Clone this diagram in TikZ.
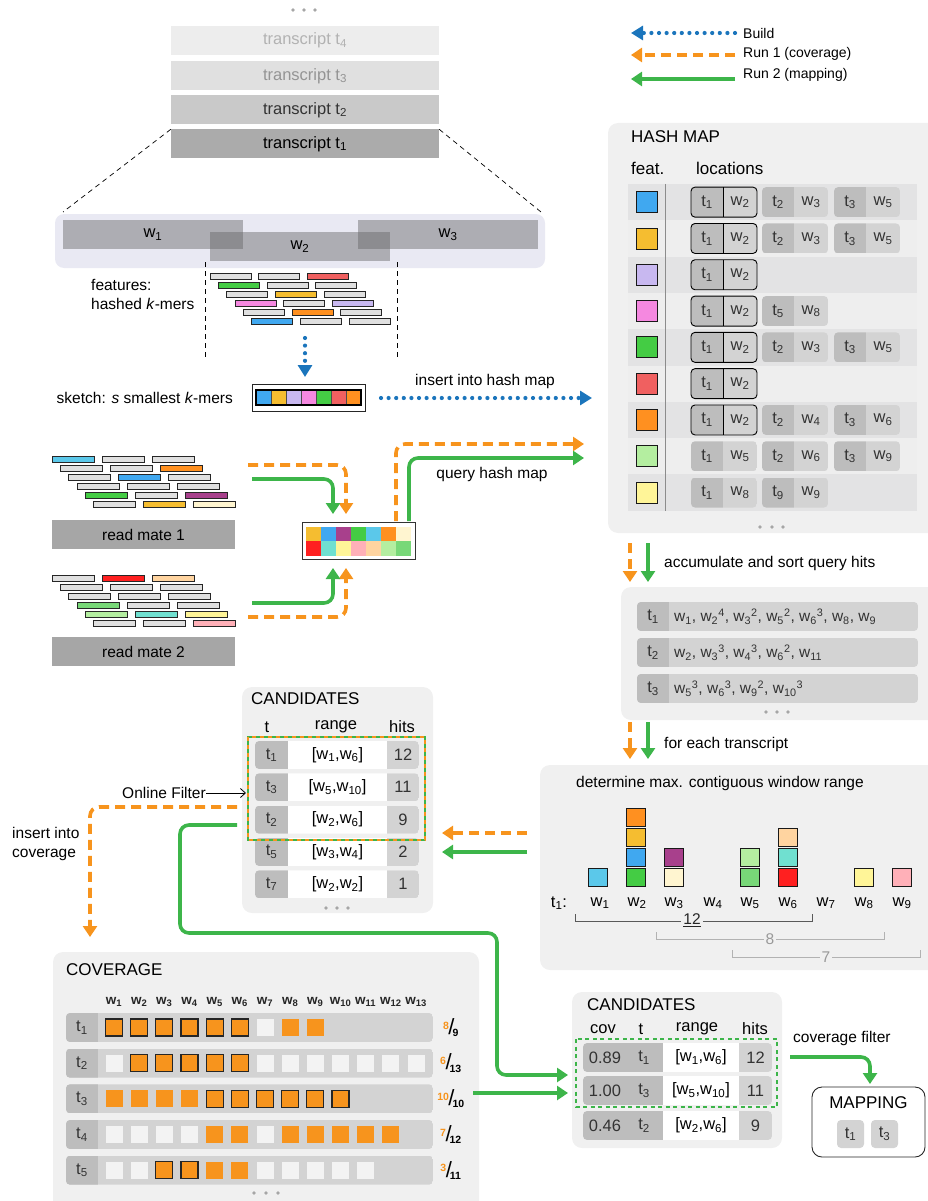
\documentclass[tikz,border=0pt]{standalone}
\usepackage{fontspec}
\setmainfont{Liberation Sans}
\usetikzlibrary{arrows.meta}
\definecolor{cgreen}{HTML}{3DB54A}
\definecolor{corange}{HTML}{F7941D}
\definecolor{cblue}{HTML}{1B75BC}
\definecolor{panel}{HTML}{F0F0F0}
\definecolor{lav}{HTML}{E9E9F3}
\definecolor{kgray}{HTML}{E0E0E0}
\definecolor{pdark}{HTML}{BDBDBD}
\definecolor{plight}{HTML}{D3D3D3}
\definecolor{rowa}{HTML}{E3E3E4}
\definecolor{rowb}{HTML}{EEEEEE}
\definecolor{sqempty}{HTML}{F3F3F3}
\definecolor{trfour}{HTML}{EDEDED}
\definecolor{trthree}{HTML}{E0E0E0}
\definecolor{trtwo}{HTML}{C9C9C9}
\definecolor{trone}{HTML}{ABABAB}
\definecolor{readbox}{HTML}{A6A6A6}
\definecolor{fblue}{HTML}{40A8F0}
\definecolor{fyellow}{HTML}{F5BD30}
\definecolor{flav}{HTML}{C8B8F0}
\definecolor{fpink}{HTML}{F588E0}
\definecolor{fgreen}{HTML}{44CC44}
\definecolor{fred}{HTML}{F06060}
\definecolor{forange}{HTML}{FF9020}
\definecolor{flgreen}{HTML}{B4EEA0}
\definecolor{flyellow}{HTML}{FFF598}
\definecolor{fcyan}{HTML}{5BC8EA}
\definecolor{fpurple}{HTML}{A8408C}
\definecolor{fcream}{HTML}{FFF5D0}
\definecolor{fbred}{HTML}{FF2020}
\definecolor{fpeach}{HTML}{FFD4A0}
\definecolor{fteal}{HTML}{70E0D0}
\definecolor{fgreentwo}{HTML}{78D878}
\definecolor{frose}{HTML}{FFB0B8}

% k-mer row: x, y, step, width, c1, c2, c3
\newcommand\kmerrow[7]{%
  \draw[kmerst, fill=#5] (#1,#2) rectangle ++(#4,6);
  \draw[kmerst, fill=#6] (#1+#3,#2) rectangle ++(#4,6);
  \draw[kmerst, fill=#7] (#1+2*#3,#2) rectangle ++(#4,6);}
% location pill: x, yc, t, w, highlight
\newcommand\locpill[5]{%
  \begin{scope}
    \clip[rounded corners=4pt] (#1,#2-15) rectangle (#1+66,#2+15);
    \fill[pdark] (#1,#2-15) rectangle (#1+32,#2+15);
    \fill[plight] (#1+32,#2-15) rectangle (#1+66,#2+15);
  \end{scope}
  \ifnum#5=1
    \draw[line width=0.9pt, rounded corners=4pt] (#1,#2-15) rectangle (#1+66,#2+15);
    \draw[line width=0.9pt] (#1+32,#2-15) -- (#1+32,#2+15);
  \fi
  \node[cell] at (#1+16,#2) {t\textsubscript{#3}};
  \node[cell] at (#1+49,#2) {w\textsubscript{#4}};}
% feature square in hash map: yc, colour
\newcommand\featsq[2]{\draw[sq, fill=#2] (636,#1-10.5) rectangle (657,#1+10.5);}
% query hits row: ytop, t, text
\newcommand\hitrow[3]{%
  \begin{scope}
    \clip[rounded corners=4pt] (637,#1) rectangle (918,#1+29);
    \fill[plight] (637,#1) rectangle (918,#1+29);
    \fill[pdark] (637,#1) rectangle (669,#1+29);
  \end{scope}
  \node[cell] at (653,#1+14.5) {t\textsubscript{#2}};
  \node[cell, anchor=west, font=\fontsize{15.5}{18}\selectfont] at (674,#1+14.5) {#3};}
% candidates row: ytop, t, range, hits
\newcommand\candrow[4]{%
  \begin{scope}
    \clip[rounded corners=4pt] (255,#1) rectangle (419,#1+28);
    \fill[white] (255,#1) rectangle (419,#1+28);
    \fill[pdark] (255,#1) rectangle (288,#1+28);
    \fill[plight] (387,#1) rectangle (419,#1+28);
  \end{scope}
  \node[cell] at (271.5,#1+14) {t\textsubscript{#2}};
  \node[cell, text=black] at (337.5,#1+14) {#3};
  \node[cell] at (403,#1+14) {#4};}
% candidates 2 row: ytop, cov, t, range, hits
\newcommand\candrowb[5]{%
  \begin{scope}
    \clip[rounded corners=4pt] (583,#1) rectangle (772,#1+29);
    \fill[white] (583,#1) rectangle (772,#1+29);
    \fill[pdark] (583,#1) rectangle (663,#1+29);
    \fill[plight] (739,#1) rectangle (772,#1+29);
  \end{scope}
  \node[cell] at (605,#1+14.5) {#2};
  \node[cell] at (644,#1+14.5) {t\textsubscript{#3}};
  \node[cell, text=black] at (701,#1+14.5) {#4};
  \node[cell] at (755.5,#1+14.5) {#5};}
% coverage row: ytop, t, list of square types
\newcommand\covrow[3]{%
  \begin{scope}
    \clip[rounded corners=4pt] (66,#1) rectangle (433,#1+29);
    \fill[plight] (66,#1) rectangle (433,#1+29);
    \fill[pdark] (66,#1) rectangle (98,#1+29);
  \end{scope}
  \node[cell] at (82,#1+14.5) {t\textsubscript{#2}};
  \foreach \s [count=\i] in {#3} {
    \ifnum\s=0 \fill[sqempty] ({114+25.17*(\i-1)-8.5},#1+6) rectangle ++(17,17);\fi
    \ifnum\s=1 \fill[corange] ({114+25.17*(\i-1)-8.5},#1+6) rectangle ++(17,17);\fi
    \ifnum\s=2 \filldraw[fill=corange, draw=black!85, line width=1.1pt] ({114+25.17*(\i-1)-8.5},#1+6) rectangle ++(17,17);\fi
  }}
% coverage fraction: yc, num, den
\newcommand\covfrac[3]{%
  \node[inner sep=0pt, font=\fontsize{15}{15}\selectfont\bfseries] at (451,#1)
    {\textsuperscript{\textcolor{corange}{#2}}\kern-1pt{\fontsize{22}{22}\selectfont\mdseries/}\kern-2pt\textsubscript{#3}};}
% window square: xc, yc, colour
\newcommand\wsq[3]{\draw[sq, fill=#3] (#1-9.2,#2-9.2) rectangle (#1+9.2,#2+9.2);}

\begin{document}
\begin{tikzpicture}[x=1pt,y=-1pt,
  lbl/.style={inner sep=0pt, font=\fontsize{15.5}{18.5}\selectfont},
  lgd/.style={inner sep=0pt, anchor=west, font=\fontsize{14}{16}\selectfont},
  ttl/.style={inner sep=0pt, anchor=west, font=\fontsize{17}{19}\selectfont},
  cell/.style={inner sep=0pt, font=\fontsize{16.5}{18}\selectfont, text=black!80},
  tbox/.style={minimum width=268pt, minimum height=29pt, inner sep=0pt, font=\fontsize{16.5}{18}\selectfont},
  kmerst/.style={draw=black!85, line width=0.7pt},
  sq/.style={draw=black!90, line width=0.8pt},
  build/.style={cblue, line width=4.2pt, dash pattern=on 0pt off 7.6pt, line cap=round, -{Triangle[length=12pt,width=14pt]}},
  runone/.style={corange, line width=3.6pt, dash pattern=on 10pt off 6pt, rounded corners=9pt, -{Triangle[length=11pt,width=14pt]}},
  runtwo/.style={cgreen, line width=3.6pt, rounded corners=9pt, -{Triangle[length=11pt,width=14pt]}},
  gdot/.style={fill=black!35},
]
\useasboundingbox (0,0) rectangle (927,1201);

%%%%%%%% legend
\coordinate (lb1) at (735,33); \coordinate (lb2) at (631,33);
\coordinate (lo1) at (735,55); \coordinate (lo2) at (631,55);
\coordinate (lg1) at (735,79); \coordinate (lg2) at (631,79);
\draw[build] (lb1) -- (lb2);
\draw[runone] (lo1) -- (lo2);
\draw[runtwo] (lg1) -- (lg2);
\node[lgd] (lbt) at (743,33) {Build};
\node[lgd] (lot) at (743,53.5) {Run 1 (coverage)};
\node[lgd] (lgt) at (743,75) {Run 2 (mapping)};

%%%%%%%% transcripts
\foreach \x in {293,304,315} \fill[gdot] (\x,10) circle (1.8);
\node[tbox, fill=trfour, text=black!30] (tr4) at (305,40.5) {transcript t\textsubscript{4}};
\node[tbox, fill=trthree, text=black!42] (tr3) at (305,76) {transcript t\textsubscript{3}};
\node[tbox, fill=trtwo, text=black!80] (tr2) at (305,110) {transcript t\textsubscript{2}};
\node[tbox, fill=trone, text=black] (tr1) at (305,144) {transcript t\textsubscript{1}};
\coordinate (zl) at (63,212); \coordinate (zr) at (541,212);
\draw[dash pattern=on 5pt off 4pt, line width=0.7pt] (tr1.north west) -- (zl);
\draw[dash pattern=on 5pt off 4pt, line width=0.7pt] (tr1.north east) -- (zr);

%%%%%%%% windows
\fill[lav, rounded corners=9pt] (55,214) rectangle (545,268);
\fill[black!60, fill opacity=0.45] (63,220) rectangle (243,249);
\fill[black!60, fill opacity=0.45] (210,232) rectangle (390,261);
\fill[black!60, fill opacity=0.45] (358,220) rectangle (538,249);
\node[cell, text=black] (w1) at (153,234.5) {w\textsubscript{1}};
\node[cell, text=black] (w2) at (300,246.5) {w\textsubscript{2}};
\node[cell, text=black] (w3) at (448,234.5) {w\textsubscript{3}};
\draw[dash pattern=on 5pt off 4pt, line width=0.7pt] (205,262) -- (205,357);
\draw[dash pattern=on 5pt off 4pt, line width=0.7pt] (397,262) -- (397,357);

\kmerrow{210}{273}{48.7}{41}{kgray}{kgray}{fred}
\kmerrow{218.3}{282}{48.7}{41}{fgreen}{kgray}{kgray}
\kmerrow{226.6}{291}{48.7}{41}{kgray}{fyellow}{kgray}
\kmerrow{234.9}{300}{48.7}{41}{fpink}{kgray}{flav}
\kmerrow{243.2}{309}{48.7}{41}{kgray}{forange}{kgray}
\kmerrow{251.5}{318}{48.7}{41}{fblue}{kgray}{kgray}
\node[lbl, anchor=west, align=left] (feat) at (91,294.5) {features:\\hashed \textit{k}-mers};

%%%%%%%% sketch
\coordinate (bd1) at (305,338); \coordinate (bd2) at (305,377);
\draw[build] (bd1) -- (bd2);
\node[draw=black!85, line width=0.8pt, minimum width=113pt, minimum height=27pt, inner sep=0pt] (sk) at (308.5,397.5) {};
\foreach \c [count=\i from 0] in {fblue,fyellow,flav,fpink,fgreen,fred,forange}
  \draw[fill=\c, draw=black!70, line width=0.5pt] ({256+15*\i},390) rectangle ++(15,15);
\draw[line width=1.3pt] (256,390) rectangle (361,405);
\node[lbl, anchor=east] (sktxt) at (233,397.5) {sketch: \textit{s} smallest \textit{k}-mers};
\coordinate (ins1) at (381,398); \coordinate (ins2) at (592,398);
\draw[build] (ins1) -- (ins2);
\node[lbl] (instxt) at (485,381) {insert into hash map};

%%%%%%%% hash map
\fill[panel, rounded corners=10pt] (608,123) rectangle (945,533);
\node[ttl] (hmt) at (631,137) {HASH MAP};
\node[ttl] (hmf) at (631,168) {feat.};
\node[ttl] (hml) at (696,168) {locations};
\foreach \i in {0,...,8} {
  \ifodd\i \fill[rowb] (628,{184+36.3*\i}) rectangle (917,{184+36.3*(\i+1)});
  \else \fill[rowa] (628,{184+36.3*\i}) rectangle (917,{184+36.3*(\i+1)}); \fi
}
\draw[black!45, line width=0.8pt] (665,184) -- (665,511);
\featsq{202.15}{fblue}
\locpill{691}{202.15}{1}{2}{1}\locpill{762}{202.15}{2}{3}{0}\locpill{834}{202.15}{3}{5}{0}
\featsq{238.45}{fyellow}
\locpill{691}{238.45}{1}{2}{1}\locpill{762}{238.45}{2}{3}{0}\locpill{834}{238.45}{3}{5}{0}
\featsq{274.75}{flav}
\locpill{691}{274.75}{1}{2}{1}
\featsq{311.05}{fpink}
\locpill{691}{311.05}{1}{2}{1}\locpill{762}{311.05}{5}{8}{0}
\featsq{347.35}{fgreen}
\locpill{691}{347.35}{1}{2}{1}\locpill{762}{347.35}{2}{3}{0}\locpill{834}{347.35}{3}{5}{0}
\featsq{383.65}{fred}
\locpill{691}{383.65}{1}{2}{1}
\featsq{419.95}{forange}
\locpill{691}{419.95}{1}{2}{1}\locpill{762}{419.95}{2}{4}{0}\locpill{834}{419.95}{3}{6}{0}
\featsq{456.25}{flgreen}
\locpill{691}{456.25}{1}{5}{0}\locpill{762}{456.25}{2}{6}{0}\locpill{834}{456.25}{3}{9}{0}
\featsq{492.55}{flyellow}
\locpill{691}{492.55}{1}{8}{0}\locpill{762}{492.55}{9}{9}{0}
\foreach \x in {760,772,783} \fill[gdot] (\x,527) circle (1.8);

%%%%%%%% reads
\kmerrow{52}{456}{50}{42}{fcyan}{kgray}{kgray}
\kmerrow{60.3}{465}{50}{42}{kgray}{kgray}{forange}
\kmerrow{68.6}{474}{50}{42}{kgray}{fblue}{kgray}
\kmerrow{76.9}{483}{50}{42}{kgray}{kgray}{kgray}
\kmerrow{85.2}{492}{50}{42}{fgreen}{kgray}{fpurple}
\kmerrow{93.5}{501}{50}{42}{kgray}{fyellow}{fcream}
\node[fill=readbox, minimum width=183pt, minimum height=29pt, inner sep=0pt, font=\fontsize{15.5}{18}\selectfont] (rm1) at (143.5,534.5) {read mate 1};
\kmerrow{52}{575}{50}{42}{kgray}{fbred}{fpeach}
\kmerrow{60.3}{584}{50}{42}{kgray}{kgray}{kgray}
\kmerrow{68.6}{593}{50}{42}{kgray}{kgray}{kgray}
\kmerrow{76.9}{602}{50}{42}{fgreentwo}{kgray}{kgray}
\kmerrow{85.2}{611}{50}{42}{flgreen}{fteal}{flyellow}
\kmerrow{93.5}{620}{50}{42}{kgray}{kgray}{frose}
\node[fill=readbox, minimum width=183pt, minimum height=29pt, inner sep=0pt, font=\fontsize{15.5}{18}\selectfont] (rm2) at (143.5,651.5) {read mate 2};

%%%%%%%% query sketch
\node[draw=black!80, fill=white, line width=0.8pt, minimum width=113pt, minimum height=37pt, inner sep=0pt] (qs) at (358.5,540.5) {};
\foreach \c [count=\i from 0] in {fyellow,fblue,fpurple,fgreen,fcyan,forange,fcream}
  \fill[\c] ({306+15*\i},527) rectangle ++(15,14);
\foreach \c [count=\i from 0] in {fbred,fteal,flyellow,frose,fpeach,flgreen,fgreentwo}
  \fill[\c] ({306+15*\i},541) rectangle ++(15,15);

\coordinate (o1s) at (248,465); \coordinate (o1e) at (346,514);
\coordinate (g1s) at (252,479); \coordinate (g1e) at (333,514);
\coordinate (o2s) at (248,617); \coordinate (o2e) at (346,568);
\coordinate (g2s) at (252,603); \coordinate (g2e) at (333,568);
\draw[runone] (o1s) -| (o1e);
\draw[runtwo] (g1s) -| (g1e);
\draw[runone] (o2s) -| (o2e);
\draw[runtwo] (g2s) -| (g2e);

\coordinate (oqs) at (396,521); \coordinate (oqe) at (584,444);
\coordinate (gqs) at (409,521); \coordinate (gqe) at (584,458);
\draw[runone] (oqs) |- (oqe);
\draw[runtwo] (gqs) |- (gqe);
\node[lbl] (qtxt) at (492,474) {query hash map};

%%%%%%%% accumulate
\coordinate (ao1) at (630,543); \coordinate (ao2) at (630,582);
\coordinate (ag1) at (648,543); \coordinate (ag2) at (648,582);
\draw[runone] (ao1) -- (ao2);
\draw[runtwo] (ag1) -- (ag2);
\node[lbl, anchor=west] (acc) at (664,563) {accumulate and sort query hits};

\fill[panel, rounded corners=10pt] (621,587) rectangle (945,720);
\hitrow{602}{1}{w\textsubscript{1}, w\textsubscript{2}\textsuperscript{4}, w\textsubscript{3}\textsuperscript{2}, w\textsubscript{5}\textsuperscript{2}, w\textsubscript{6}\textsuperscript{3}, w\textsubscript{8}, w\textsubscript{9}}
\hitrow{638}{2}{w\textsubscript{2}, w\textsubscript{3}\textsuperscript{3}, w\textsubscript{4}\textsuperscript{3}, w\textsubscript{6}\textsuperscript{2}, w\textsubscript{11}}
\hitrow{674}{3}{w\textsubscript{5}\textsuperscript{3}, w\textsubscript{6}\textsuperscript{3}, w\textsubscript{9}\textsuperscript{2}, w\textsubscript{10}\textsuperscript{3}}
\foreach \x in {766,777,788} \fill[gdot] (\x,712) circle (1.8);

%%%%%%%% for each transcript
\coordinate (fo1) at (630,722); \coordinate (fo2) at (630,759);
\coordinate (fg1) at (648,722); \coordinate (fg2) at (648,759);
\draw[runone] (fo1) -- (fo2);
\draw[runtwo] (fg1) -- (fg2);
\node[lbl, anchor=west] (fet) at (664,744) {for each transcript};

%%%%%%%% window range
\fill[panel, rounded corners=10pt] (540,765) rectangle (945,970);
\node[lbl, anchor=west] (dmt) at (576,783) {determine max. contiguous window range};
\wsq{598}{877.5}{fcyan}
\wsq{636}{877.5}{fgreen}\wsq{636}{857.5}{fblue}\wsq{636}{837.5}{fyellow}\wsq{636}{817.5}{forange}
\wsq{674}{877.5}{fcream}\wsq{674}{857.5}{fpurple}
\wsq{750}{877.5}{fgreentwo}\wsq{750}{857.5}{flgreen}
\wsq{788}{877.5}{fbred}\wsq{788}{857.5}{fteal}\wsq{788}{837.5}{fpeach}
\wsq{864}{877.5}{flyellow}
\wsq{902}{877.5}{frose}
\node[cell, text=black] (tlab) at (559,903) {t\textsubscript{1}:};
\foreach \x [count=\i] in {600,637,674,713,750,788,826,864,902}
  \node[cell, text=black] (ww\i) at (\x,903) {w\textsubscript{\i}};
\draw[black!65, line width=0.9pt] (575,914) -- (575,921) -- (812,921) -- (812,914);
\node[fill=panel, inner sep=2pt, font=\fontsize{15.5}{18}\selectfont, text=black!85] (b12) at (692,920) {\underline{12}};
\draw[black!30, line width=0.9pt] (656,932) -- (656,939) -- (884,939) -- (884,932);
\node[fill=panel, inner sep=2pt, font=\fontsize{15.5}{18}\selectfont, text=black!40] (b8) at (770,939) {8};
\draw[black!30, line width=0.9pt] (732,950) -- (732,957) -- (920,957) -- (920,950);
\node[fill=panel, inner sep=2pt, font=\fontsize{15.5}{18}\selectfont, text=black!40] (b7) at (826,957) {7};

\coordinate (co1) at (527,833); \coordinate (co2) at (442,833);
\coordinate (cg1) at (527,852); \coordinate (cg2) at (442,852);
\draw[runone] (co1) -- (co2);
\draw[runtwo] (cg1) -- (cg2);

%%%%%%%% candidates 1
\fill[panel, rounded corners=10pt] (242,687) rectangle (433,913);
\node[ttl] (cat) at (251,699) {CANDIDATES};
\node[cell, text=black] (cah1) at (267,727) {t};
\node[cell, text=black] (cah2) at (336,727) {range};
\node[cell, text=black] (cah3) at (402,727) {hits};
\candrow{741}{1}{[w\textsubscript{1},w\textsubscript{6}]}{12}
\candrow{773.3}{3}{[w\textsubscript{5},w\textsubscript{10}]}{11}
\candrow{805.7}{2}{[w\textsubscript{2},w\textsubscript{6}]}{9}
\candrow{838}{5}{[w\textsubscript{3},w\textsubscript{4}]}{2}
\candrow{870.3}{7}{[w\textsubscript{2},w\textsubscript{2}]}{1}
\foreach \x in {326,337,348} \fill[gdot] (\x,908) circle (1.8);
\draw[cgreen, line width=2.6pt] (248,737) rectangle (425,840);
\draw[corange, line width=2.6pt, dash pattern=on 4pt off 4pt] (248,737) rectangle (425,840);

\node[lbl, anchor=east] (onf) at (206,793) {Online Filter};
\coordinate (onfe) at (246,793);
\draw[line width=0.8pt, -{Straight Barb[length=5pt,width=9pt]}] (onf.east) -- (onfe);

\coordinate (ics) at (237,807); \coordinate (ice) at (90,937);
\draw[runone] (ics) -| (ice);
\node[lbl, anchor=west, align=left] (ict) at (12,844) {insert into\\coverage};

\coordinate (mg1) at (237,825); \coordinate (mg2) at (180,825); \coordinate (mg3) at (180,933);
\coordinate (mg4) at (497,933); \coordinate (mg5) at (497,1075); \coordinate (mg6) at (568,1075);
\draw[runtwo] (mg1) -- (mg2) -- (mg3) -- (mg4) -- (mg5) -- (mg6);

%%%%%%%% coverage
\fill[panel, rounded corners=10pt] (53,952) rectangle (479,1220);
\node[ttl] (covt) at (66,970) {COVERAGE};
\foreach \i in {1,...,13}
  \node[inner sep=0pt, font=\fontsize{13.5}{14}\selectfont\bfseries, text=black!85] (ch\i) at ({114+25.17*(\i-1)},1002) {w\textsubscript{\i}};
\covrow{1013}{1}{2,2,2,2,2,2,0,1,1}
\covrow{1048.7}{2}{0,2,2,2,2,2,0,0,0,0,0,0,0}
\covrow{1084.3}{3}{1,1,1,1,2,2,2,2,2,2}
\covrow{1120}{4}{0,0,0,0,1,1,0,1,1,1,1,1}
\covrow{1155.7}{5}{0,0,2,2,1,1,0,0,0,0,0}
\covfrac{1027.5}{8}{9}
\covfrac{1063.2}{6}{13}
\covfrac{1098.8}{10}{10}
\covfrac{1134.5}{7}{12}
\covfrac{1170.2}{3}{11}
\foreach \x in {254,266,278} \fill[gdot] (\x,1193) circle (1.8);

\coordinate (cvg1) at (473,1093); \coordinate (cvg2) at (568,1093);
\draw[runtwo] (cvg1) -- (cvg2);

%%%%%%%% candidates 2
\fill[panel, rounded corners=10pt] (572,992) rectangle (782,1148);
\node[ttl] (cbt) at (587,1005) {CANDIDATES};
\node[cell, text=black] (cbh1) at (603,1029) {cov};
\node[cell, text=black] (cbh2) at (641,1029) {t};
\node[cell, text=black] (cbh3) at (697,1029) {range};
\node[cell, text=black] (cbh4) at (755,1029) {hits};
\candrowb{1043}{0.89}{1}{[w\textsubscript{1},w\textsubscript{6}]}{12}
\candrowb{1076}{1.00}{3}{[w\textsubscript{5},w\textsubscript{10}]}{11}
\candrowb{1111}{0.46}{2}{[w\textsubscript{2},w\textsubscript{6}]}{9}
\draw[cgreen, line width=2.6pt, dash pattern=on 4pt off 3.5pt] (576,1039) rectangle (777,1107);

\node[lbl, anchor=west] (cft) at (793,1038) {coverage filter};
\coordinate (cf1) at (790,1057); \coordinate (cf2) at (870,1084);
\draw[runtwo] (cf1) -| (cf2);

\node[draw=black!85, fill=white, line width=0.9pt, rounded corners=10pt, minimum width=113pt, minimum height=70pt, inner sep=0pt] (mapbox) at (868.5,1122) {};
\node[inner sep=0pt, font=\fontsize{17}{19}\selectfont] (mapt) at (868.5,1103) {MAPPING};
\node[fill=plight, rounded corners=4pt, minimum width=27pt, minimum height=28pt, inner sep=0pt, font=\fontsize{16.5}{18}\selectfont, text=black!80] (m1) at (850.5,1134) {t\textsubscript{1}};
\node[fill=plight, rounded corners=4pt, minimum width=27pt, minimum height=28pt, inner sep=0pt, font=\fontsize{16.5}{18}\selectfont, text=black!80] (m3) at (884.5,1134) {t\textsubscript{3}};
\end{tikzpicture}
\end{document}
